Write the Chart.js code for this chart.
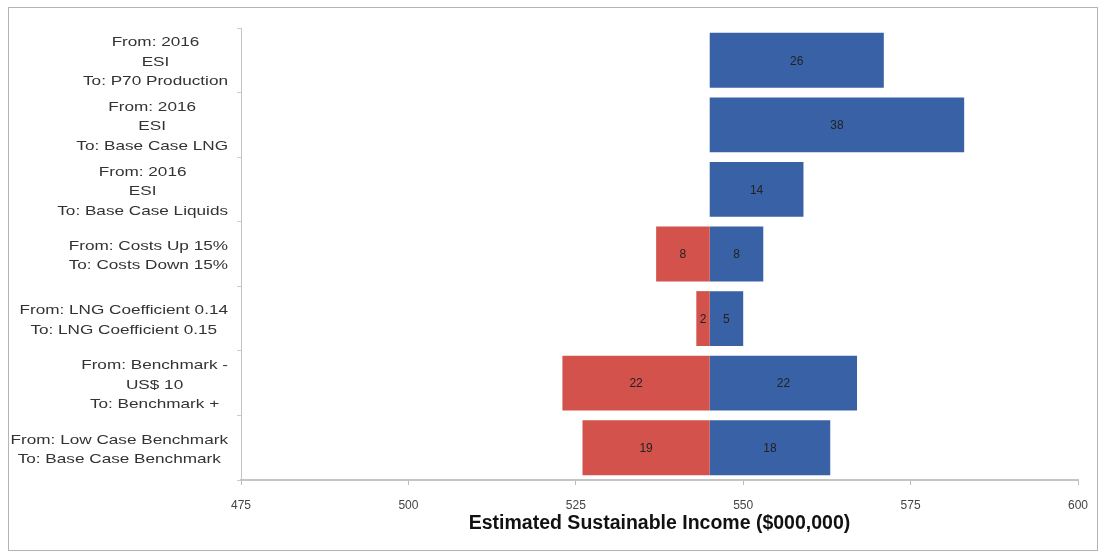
<!DOCTYPE html>
<html>
<head>
<meta charset="utf-8">
<script src="https://cdn.jsdelivr.net/npm/chart.js@4/dist/chart.umd.min.js"></script>
<style>
  html, body { margin: 0; padding: 0; background: #fff; }
  #frame {
    position: absolute; left: 8px; top: 7px; width: 1088px; height: 542px;
    border: 1px solid #b4b4b4;
  }
  #chartBox { position: absolute; left: 0; top: 0; width: 1088px; height: 542px; }
</style>
</head>
<body>
<div id="frame"><div id="chartBox"><canvas id="tornado"></canvas></div></div>
<script>
// sensitivity categories (top to bottom)
const categories = [
    ['From: 2016', 'ESI', 'To: P70 Production'],
    ['From: 2016', 'ESI', 'To: Base Case LNG'],
    ['From: 2016', 'ESI', 'To: Base Case Liquids'],
    ['From: Costs Up 15%', 'To: Costs Down 15%'],
    ['From: LNG Coefficient 0.14', 'To: LNG Coefficient 0.15'],
    ['From: Benchmark -', 'US$ 10', 'To: Benchmark +'],
    ['From: Low Case Benchmark', 'To: Base Case Benchmark']
];
const baseValue = 545;
// change below / above the base case ($000,000)
const downside = [null, null, null, 8, 2, 22, 19];
const upside = [26, 38, 14, 8, 5, 22, 18];
const tickValues = [475, 500, 525, 550, 575, 600];

const downData = downside.map(v => v === null ? null : [baseValue - v, baseValue]);
const upData = upside.map(v => [baseValue, baseValue + v]);

// row labels: right-aligned blocks with centred lines, slightly widened like the original
const rowLabels = {
    id: 'rowLabels',
    afterDraw(chart) {
        const c = chart.ctx;
        const y = chart.scales.y;
        const stretch = 1.32;
        c.save();
        c.font = '13px "Liberation Sans", Arial, sans-serif';
        c.fillStyle = '#333';
        c.textAlign = 'center';
        c.textBaseline = 'middle';
        const right = 219;
        const lh = 19.5;
        categories.forEach((lines, i) => {
            const w = Math.max(...lines.map(s => c.measureText(s).width)) * stretch;
            const cx = right - w / 2;
            const cy = y.getPixelForValue(i) + 2;
            lines.forEach((s, k) => {
                c.save();
                c.translate(cx, cy + (k - (lines.length - 1) / 2) * lh);
                c.scale(stretch, 1);
                c.fillText(s, 0, 0);
                c.restore();
            });
        });
        c.restore();
    }
};

// value labels in the middle of each bar
const barValues = {
    id: 'barValues',
    afterDatasetsDraw(chart) {
        const c = chart.ctx;
        c.save();
        c.font = '12px "Liberation Sans", Arial, sans-serif';
        c.fillStyle = '#222';
        c.textAlign = 'center';
        c.textBaseline = 'middle';
        const sets = [downside, upside];
        sets.forEach((vals, d) => {
            chart.getDatasetMeta(d).data.forEach((bar, i) => {
                if (vals[i] === null) return;
                const cx = (bar.x + bar.base) / 2;
                c.fillText(String(vals[i]), cx, bar.y + 1);
            });
        });
        c.restore();
    }
};

document.addEventListener('DOMContentLoaded', function() {
    const ctx = document.getElementById('tornado');
    new Chart(ctx, {
        type: 'bar',
        data: {
            labels: categories.map(l => l.join(' ')),
            datasets: [{
                label: 'Down',
                data: downData,
                backgroundColor: '#d3524b',
                borderWidth: 0,
                grouped: false,
                categoryPercentage: 0.85,
                barPercentage: 1
            }, {
                label: 'Up',
                data: upData,
                backgroundColor: '#3862a5',
                borderWidth: 0,
                grouped: false,
                categoryPercentage: 0.85,
                barPercentage: 1
            }]
        },
        options: {
            indexAxis: 'y',
            responsive: true,
            maintainAspectRatio: false,
            animation: false,
            layout: { padding: { top: 20, right: 19, left: 0, bottom: 0 } },
            plugins: {
                legend: { display: false },
                tooltip: { enabled: false }
            },
            scales: {
                x: {
                    type: 'linear',
                    min: 475,
                    max: 600,
                    afterBuildTicks: s => { s.ticks = tickValues.map(v => ({ value: v })); },
                    border: { color: '#c4c4c4', width: 2 },
                    grid: { drawOnChartArea: false, drawTicks: true, tickLength: 5, color: '#bbb' },
                    ticks: {
                        color: '#444',
                        font: { size: 12, family: '"Liberation Sans", Arial, sans-serif' },
                        padding: 13
                    },
                    title: {
                        display: true,
                        text: 'Estimated Sustainable Income ($000,000)',
                        color: '#111',
                        font: { size: 19.5, weight: 'bold', family: '"Liberation Sans", Arial, sans-serif' },
                        padding: { top: 4, bottom: 15 }
                    },
                    afterFit: s => {
                        s.height = 70;
                        s.paddingLeft = 0;
                        s.paddingRight = 0;
                    }
                },
                y: {
                    type: 'category',
                    border: { color: '#c4c4c4', width: 1 },
                    grid: { drawOnChartArea: false, tickLength: 4, color: '#ccc', offset: true },
                    ticks: { display: false },
                    afterFit: s => { s.width = 232; }
                }
            }
        },
        plugins: [rowLabels, barValues]
    });
});
</script>
</body>
</html>
